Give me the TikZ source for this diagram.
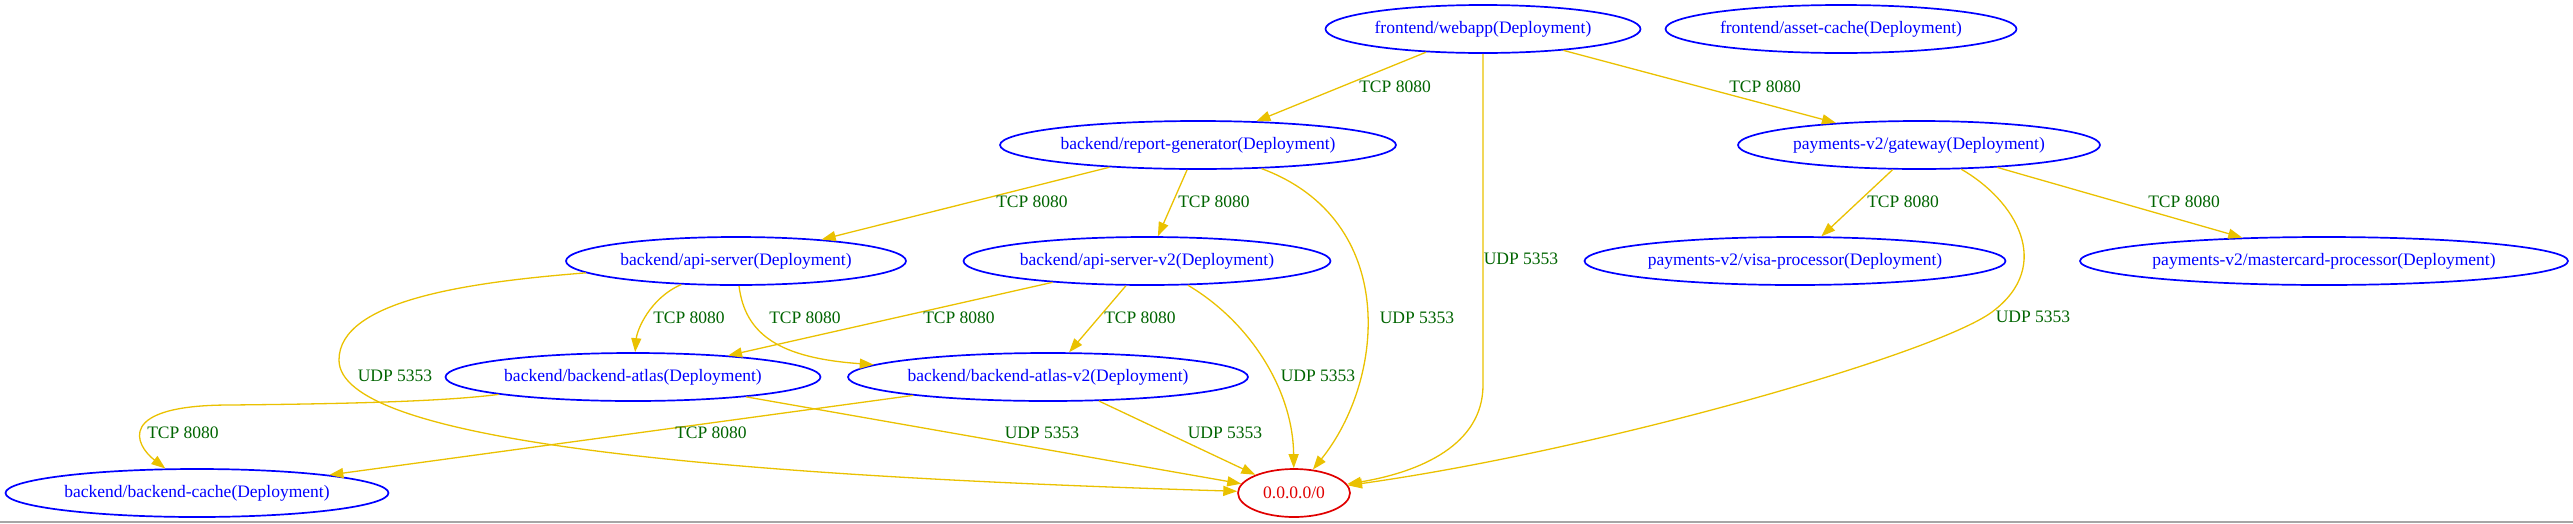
\documentclass[tikz,border=0pt]{standalone}
\usepackage{fontspec}
\setmainfont{Liberation Serif}
\usetikzlibrary{arrows.meta,shapes.geometric}
\definecolor{gblue}{HTML}{0000FF}
\definecolor{gred}{HTML}{E00000}
\definecolor{ggold}{HTML}{EAC100}
\definecolor{ggreen}{HTML}{006400}
\tikzset{
  dep/.style={ellipse,draw=gblue,text=gblue,line width=1.7pt,inner sep=0pt,minimum height=48pt,font=\fontsize{17.5}{20}\selectfont},
  ext/.style={dep,draw=gred,text=gred},
  flow/.style={-{Triangle[length=14pt,width=10pt]},line width=1.3pt,draw=ggold},
  lbl/.style={font=\fontsize{17.5}{20}\selectfont,text=ggreen,inner sep=0pt},
}
\begin{document}
\begin{tikzpicture}[x=1pt,y=-1pt]
  \useasboundingbox (0,0) rectangle (2573,523);
  % workloads
  \node[dep,minimum width=315pt] (webapp) at (1483,29) {frontend/webapp(Deployment)};
  \node[dep,minimum width=351pt] (assetcache) at (1841,29) {frontend/asset-cache(Deployment)};
  \node[dep,minimum width=396pt] (reportgen) at (1198,145) {backend/report-generator(Deployment)};
  \node[dep,minimum width=362pt] (gateway) at (1919,145) {payments-v2/gateway(Deployment)};
  \node[dep,minimum width=340pt] (apisrv) at (736,261) {backend/api-server(Deployment)};
  \node[dep,minimum width=367pt] (apisrv2) at (1147,261) {backend/api-server-v2(Deployment)};
  \node[dep,minimum width=421pt] (visa) at (1795,261) {payments-v2/visa-processor(Deployment)};
  \node[dep,minimum width=488pt] (mastercard) at (2324,261) {payments-v2/mastercard-processor(Deployment)};
  \node[dep,minimum width=375pt] (atlas) at (633,377) {backend/backend-atlas(Deployment)};
  \node[dep,minimum width=400pt] (atlas2) at (1048,377) {backend/backend-atlas-v2(Deployment)};
  \node[dep,minimum width=383pt] (cache) at (197,493) {backend/backend-cache(Deployment)};
  \node[ext,minimum width=112pt] (world) at (1294,493) {0.0.0.0/0};
  % flows
  \draw[flow] (webapp) -- (reportgen);
  \draw[flow] (webapp) -- (gateway);
  \draw[flow] (webapp) -- (1483,385) .. controls (1483,445) and (1420,472) .. (world);
  \draw[flow] (reportgen) -- (apisrv);
  \draw[flow] (reportgen) -- (apisrv2);
  \draw[flow] (reportgen) .. controls (1400,220) and (1385,380) .. (world);
  \draw[flow] (gateway) -- (visa);
  \draw[flow] (gateway) -- (mastercard);
  \draw[flow] (gateway) .. controls (2015,200) and (2055,265) .. (1992,312) .. controls (1935,354) and (1600,450) .. (world);
  \draw[flow] (apisrv) .. controls (650,298) and (637,330) .. (atlas);
  \draw[flow] (apisrv) .. controls (745,335) and (780,358) .. (atlas2);
  \draw[flow] (apisrv) .. controls (470,282) and (339,300) .. (339,360) .. controls (339,440) and (700,475) .. (world);
  \draw[flow] (apisrv2) -- (atlas);
  \draw[flow] (apisrv2) -- (atlas2);
  \draw[flow] (apisrv2) .. controls (1250,322) and (1293,390) .. (world);
  \draw[flow] (atlas) .. controls (440,402) and (330,404) .. (230,405) .. controls (115,405) and (135,445) .. (cache);
  \draw[flow] (atlas) -- (world);
  \draw[flow] (atlas2) -- (cache);
  \draw[flow] (atlas2) -- (world);
  % port labels
  \foreach \n/\x/\y in {tcpA/1395/87, tcpB/1765/87, tcpC/1032/202, tcpD/1214/202, tcpE/1903/202, tcpF/2184/202,
                        tcpG/689/318, tcpH/805/318, tcpI/959/318, tcpJ/1140/318, tcpK/183/433, tcpL/711/433}
    \node[lbl] (\n) at (\x,\y) {TCP 8080};
  \foreach \n/\x/\y in {udpA/1521/259, udpB/1417/318, udpC/2033/317, udpD/395/376, udpE/1318/376, udpF/1042/433, udpG/1225/433}
    \node[lbl] (\n) at (\x,\y) {UDP 5353};
  \draw[draw=black!35,line width=1.5pt] (0,522) -- (2573,522);
\end{tikzpicture}
\end{document}
